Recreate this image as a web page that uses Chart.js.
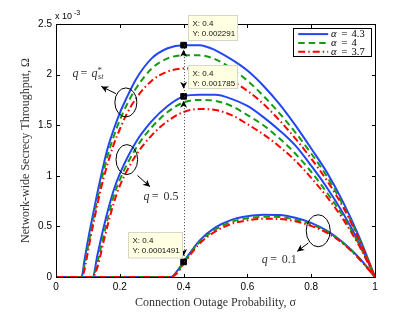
<!DOCTYPE html>
<html>
<head>
<meta charset="utf-8">
<script src="https://cdn.jsdelivr.net/npm/chart.js@4.4.0/dist/chart.umd.min.js"></script>
<style>
  html, body { margin: 0; padding: 0; background: #fff; }
</style>
</head>
<body>
<canvas id="graph01" width="415" height="313"></canvas>
<script>
// throughput values are in units of 1e-3

// q = q*_st
const sigmaQst = [0, 0.08, 0.09, 0.1, 0.12, 0.14, 0.16, 0.18, 0.2, 0.22, 0.25, 0.3, 0.35, 0.4, 0.45, 0.5, 0.55, 0.6, 0.65, 0.7, 0.75, 0.8, 0.85, 0.9, 0.95, 1];
const qstA43 = [0, 0, 0.18, 0.36, 0.68, 0.98, 1.25, 1.45, 1.62, 1.76, 1.95, 2.16, 2.26, 2.291, 2.29, 2.24, 2.15, 2.04, 1.89, 1.71, 1.50, 1.27, 1.03, 0.74, 0.40, 0];
const qstA4 = [0, 0, 0.13, 0.30, 0.62, 0.92, 1.18, 1.38, 1.55, 1.69, 1.86, 2.06, 2.16, 2.19, 2.19, 2.15, 2.06, 1.94, 1.79, 1.62, 1.43, 1.22, 0.99, 0.71, 0.38, 0];
const qstA37 = [0, 0, 0.08, 0.25, 0.57, 0.86, 1.10, 1.30, 1.46, 1.60, 1.76, 1.94, 2.03, 2.06, 2.06, 2.02, 1.94, 1.84, 1.71, 1.55, 1.37, 1.17, 0.95, 0.69, 0.37, 0];

// q = 0.5
const sigmaQ05 = [0, 0.115, 0.13, 0.15, 0.18, 0.2, 0.25, 0.3, 0.35, 0.4, 0.45, 0.5, 0.55, 0.6, 0.65, 0.7, 0.75, 0.8, 0.85, 0.9, 0.95, 1];
const q05A43 = [0, 0, 0.22, 0.50, 0.85, 1.02, 1.33, 1.54, 1.69, 1.785, 1.80, 1.80, 1.76, 1.69, 1.58, 1.45, 1.30, 1.10, 0.88, 0.63, 0.34, 0];
const q05A4 = [0, 0, 0.15, 0.42, 0.79, 0.96, 1.27, 1.48, 1.63, 1.725, 1.75, 1.74, 1.69, 1.60, 1.50, 1.37, 1.22, 1.04, 0.83, 0.60, 0.32, 0];
const q05A37 = [0, 0, 0.10, 0.36, 0.72, 0.90, 1.20, 1.40, 1.54, 1.63, 1.66, 1.65, 1.60, 1.51, 1.41, 1.29, 1.15, 0.98, 0.79, 0.57, 0.31, 0];

// q = 0.1
const sigmaQ01 = [0, 0.36, 0.38, 0.4, 0.45, 0.5, 0.55, 0.6, 0.65, 0.7, 0.75, 0.8, 0.85, 0.9, 0.95, 1];
const q01A43 = [0, 0, 0.06, 0.149, 0.36, 0.49, 0.565, 0.60, 0.615, 0.612, 0.585, 0.535, 0.455, 0.34, 0.19, 0];
const q01A4 = [0, 0, 0.05, 0.14, 0.345, 0.47, 0.545, 0.58, 0.595, 0.593, 0.567, 0.52, 0.445, 0.335, 0.185, 0];
const q01A37 = [0, 0, 0.04, 0.13, 0.33, 0.45, 0.525, 0.56, 0.575, 0.573, 0.55, 0.505, 0.435, 0.33, 0.18, 0];

// data tips at sigma = 0.4
const tipX = [0.4, 0.4, 0.4];
const tipY = [2.291, 1.785, 0.1491];

const alphaLabels = ['4.3', '4', '3.7'];
const xTicks = [0, 0.2, 0.4, 0.6, 0.8, 1];
const yTicks = [0, 0.5, 1, 1.5, 2, 2.5];

const COLORS = ['rgb(35, 70, 245)', 'rgb(20, 155, 20)', 'rgb(255, 0, 0)'];
const DASHES = [[], [6.5, 4], [7, 3, 1.5, 3]];
const SERIF = '"Liberation Serif", "Times New Roman", serif';
const SANS = '"Liberation Sans", Arial, sans-serif';

Chart.defaults.font.family = SANS;
Chart.defaults.color = '#000';

function series(xs, ys, k) {
  return {
    data: xs.map((x, i) => ({ x: x, y: ys[i] })),
    borderColor: COLORS[k],
    borderDash: DASHES[k],
    borderWidth: 2,
    pointRadius: 0,
    fill: false,
    order: 3 - k
  };
}

const datasets = [
  series(sigmaQst, qstA43, 0), series(sigmaQst, qstA4, 1), series(sigmaQst, qstA37, 2),
  series(sigmaQ05, q05A43, 0), series(sigmaQ05, q05A4, 1), series(sigmaQ05, q05A37, 2),
  series(sigmaQ01, q01A43, 0), series(sigmaQ01, q01A4, 1), series(sigmaQ01, q01A37, 2),
  {
    type: 'scatter',
    data: tipX.map((x, i) => ({ x: x, y: tipY[i] })),
    pointStyle: 'rect',
    pointRadius: 4,
    backgroundColor: '#000',
    borderColor: '#000',
    order: 0
  }
];

function arrowHead(ctx, tx, ty, ang) {
  ctx.save();
  ctx.translate(tx, ty);
  ctx.rotate(ang);
  ctx.beginPath();
  ctx.moveTo(0, 0);
  ctx.lineTo(-7, -3.5);
  ctx.lineTo(-5, 0);
  ctx.lineTo(-7, 3.5);
  ctx.closePath();
  ctx.fill();
  ctx.restore();
}

function arrow(ctx, fx, fy, tx, ty) {
  ctx.beginPath();
  ctx.moveTo(fx, fy);
  ctx.lineTo(tx, ty);
  ctx.stroke();
  arrowHead(ctx, tx, ty, Math.atan2(ty - fy, tx - fx));
}

// draw text pieces: [text, font, dx, dy]
function rich(ctx, x, y, parts) {
  parts.forEach(p => {
    ctx.font = p[1];
    ctx.fillText(p[0], x + p[2], y + (p[3] || 0));
  });
}

const decor = {
  id: 'decor',
  afterDatasetsDraw(chart) {
    const { ctx, chartArea: a, scales: { x, y } } = chart;
    const X = v => x.getPixelForValue(v);
    const Y = v => y.getPixelForValue(v);
    ctx.save();

    // axes box and inner ticks
    ctx.strokeStyle = '#000';
    ctx.lineWidth = 1;
    const L = Math.round(a.left) + 0.5, R = Math.round(a.right) + 0.5;
    const T = Math.round(a.top) + 0.5, B = Math.round(a.bottom) + 0.5;
    ctx.strokeRect(L, T, R - L, B - T);
    ctx.beginPath();
    xTicks.forEach(v => {
      const px = Math.round(X(v)) + 0.5;
      ctx.moveTo(px, B); ctx.lineTo(px, B - 3.5);
      ctx.moveTo(px, T); ctx.lineTo(px, T + 3.5);
    });
    yTicks.forEach(v => {
      const py = Math.round(Y(v)) + 0.5;
      ctx.moveTo(L, py); ctx.lineTo(L + 3.5, py);
      ctx.moveTo(R, py); ctx.lineTo(R - 3.5, py);
    });
    ctx.stroke();

    // exponent
    ctx.fillStyle = '#000';
    ctx.textBaseline = 'alphabetic';
    ctx.textAlign = 'left';
    rich(ctx, a.left - 1, a.top - 5.5, [['x 10', '9px ' + SANS, 0], ['-3', '7px ' + SANS, 19, -4]]);

    // dotted guide with arrows between the data tips
    const mx = X(tipX[0]);
    const m = tipY.map(Y);
    ctx.save();
    ctx.strokeStyle = '#444';
    ctx.setLineDash([1, 2]);
    ctx.beginPath();
    ctx.moveTo(Math.round(mx) + 0.5, m[0]);
    ctx.lineTo(Math.round(mx) + 0.5, m[2]);
    ctx.stroke();
    ctx.restore();
    ctx.fillStyle = '#000';
    arrowHead(ctx, mx, m[0] + 4.5, -Math.PI / 2);
    arrowHead(ctx, mx, m[1] - 7.5, Math.PI / 2);
    arrowHead(ctx, mx, m[1] + 4.5, -Math.PI / 2);
    arrowHead(ctx, mx, m[2] - 6, Math.PI / 2);

    // data tip boxes
    const boxes = [[4.4, -30.5, 49, 25], [4.4, -31, 49, 23], [-55.6, -30, 54, 25.5]];
    boxes.forEach((b, i) => {
      const bx = Math.round(mx + b[0]) + 0.5, by = Math.round(m[i] + b[1]) + 0.5;
      ctx.fillStyle = 'rgb(255, 255, 225)';
      ctx.strokeStyle = 'rgb(215, 215, 200)';
      ctx.fillRect(bx, by, b[2], b[3]);
      ctx.strokeRect(bx, by, b[2], b[3]);
      ctx.fillStyle = '#111';
      ctx.font = '8px ' + SANS;
      ctx.textBaseline = 'middle';
      ctx.fillText('X: ' + tipX[i], bx + 4, by + 8.5);
      ctx.fillText('Y: ' + (tipY[i] / 1000).toPrecision(4), bx + 4, by + 18);
    });

    // ellipses around curve families
    ctx.strokeStyle = '#000';
    ctx.fillStyle = '#000';
    ctx.lineWidth = 1;
    [[0.219, 1.725, 11, 14.5], [0.222, 1.16, 10.8, 15], [0.822, 0.457, 12, 16]].forEach(e => {
      ctx.beginPath();
      ctx.ellipse(X(e[0]), Y(e[1]), e[2], e[3], 0, 0, Math.PI * 2);
      ctx.stroke();
    });
    arrow(ctx, X(0.188), Y(1.812), X(0.142), Y(1.883));
    arrow(ctx, X(0.2555), Y(1.003), X(0.2947), Y(0.892));
    arrow(ctx, X(0.791), Y(0.336), X(0.756), Y(0.253));

    // family labels
    ctx.textBaseline = 'alphabetic';
    ctx.fillStyle = '#333';
    const it = 'italic 12px ' + SERIF, rm = '12px ' + SERIF;
    rich(ctx, X(0.052), Y(1.979), [['q', it, 0], ['=', rm, 8], ['q', it, 19], ['*', '9px ' + SERIF, 25, -4], ['st', 'italic 8px ' + SERIF, 25.5, 2.5]]);
    rich(ctx, X(0.274), Y(0.757), [['q', it, 0], ['=', rm, 8.4], ['0.5', rm, 20]]);
    rich(ctx, X(0.645), Y(0.138), [['q', it, 0], ['=', rm, 8.4], ['0.1', rm, 20]]);

    // legend
    const lx = Math.round(a.right - 81.7) + 0.5, ly = Math.round(a.top + 3.7) + 0.5;
    ctx.fillStyle = '#fff';
    ctx.fillRect(lx, ly, 78, 28);
    ctx.strokeStyle = '#000';
    ctx.strokeRect(lx, ly, 78, 28);
    alphaLabels.forEach((lab, i) => {
      const ry = ly + 5.6 + i * 8.8;
      ctx.save();
      ctx.strokeStyle = COLORS[i];
      ctx.lineWidth = 2;
      ctx.setLineDash(DASHES[i]);
      ctx.beginPath();
      ctx.moveTo(lx + 4.7, ry);
      ctx.lineTo(lx + 34.7, ry);
      ctx.stroke();
      ctx.restore();
      ctx.fillStyle = '#000';
      rich(ctx, lx + 37.5, ry + 3.3, [['\u03b1', 'italic 10.5px ' + SERIF, 0], ['=', '10.5px ' + SERIF, 10.5], [lab, '10.5px ' + SERIF, 20.5]]);
    });

    ctx.restore();
  }
};

new Chart(document.getElementById('graph01'), {
  type: 'line',
  data: { datasets: datasets },
  options: {
    responsive: false,
    animation: false,
    devicePixelRatio: 1,
    layout: { padding: { top: 24, right: 40, left: 0, bottom: 0 } },
    plugins: { legend: { display: false }, tooltip: { enabled: false } },
    elements: { line: { cubicInterpolationMode: 'monotone' } },
    scales: {
      x: {
        type: 'linear',
        min: 0,
        max: 1,
        afterBuildTicks: s => { s.ticks = xTicks.map(v => ({ value: v })); },
        afterFit: s => { s.height = 36; },
        grid: { display: false, drawTicks: false },
        border: { display: false },
        ticks: { padding: 4, font: { size: 10 }, maxRotation: 0, callback: v => String(+v.toFixed(1)) },
        title: {
          display: true,
          text: 'Connection Outage Probability, \u03c3',
          font: { family: SERIF, size: 12 },
          color: '#333',
          padding: { top: 0, bottom: 3 }
        }
      },
      y: {
        min: 0,
        max: 2.5,
        afterBuildTicks: s => { s.ticks = yTicks.map(v => ({ value: v })); },
        afterFit: s => { s.width = 56; },
        grid: { display: false, drawTicks: false },
        border: { display: false },
        ticks: { padding: 4, font: { size: 10 }, callback: v => String(v) },
        title: {
          display: true,
          text: 'Network-wide Secrecy Throughput, \u03a9',
          font: { family: SERIF, size: 12 },
          color: '#333',
          padding: { top: 19, bottom: 0 }
        }
      }
    }
  },
  plugins: [decor]
});
</script>
</body>
</html>
